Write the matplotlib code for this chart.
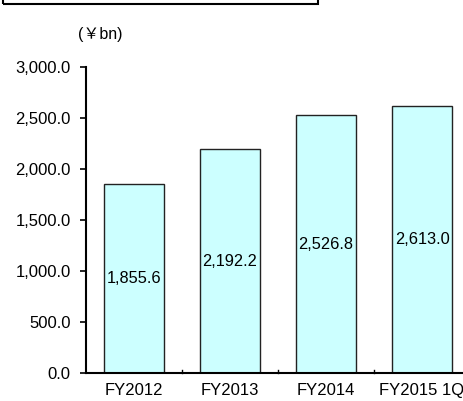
import matplotlib.pyplot as plt
from matplotlib.patches import Rectangle

# Datos del grafico
categorias = ['FY2012', 'FY2013', 'FY2014', 'FY2015 1Q']
valores = [1855.6, 2192.2, 2526.8, 2613.0]
etiquetas_y = ['0.0', '500.0', '1,000.0', '1,500.0', '2,000.0', '2,500.0', '3,000.0']
ticks_y = [0, 500, 1000, 1500, 2000, 2500, 3000]

plt.rcParams['font.family'] = ['Liberation Sans', 'Noto Sans CJK JP', 'DejaVu Sans']

fig = plt.figure(figsize=(4.63, 4.01), dpi=100)
W, H = 463, 401
ax = fig.add_axes([86 / W, (H - 373) / H, (470 - 86) / W, (373 - 67) / H])

x = range(len(categorias))
ax.bar(x, valores, width=0.63, color='#CCFFFF', edgecolor='#222222', linewidth=1.0)

# Etiquetas dentro de las barras (a media altura)
for i, v in enumerate(valores):
    ax.text(i, v / 2, f'{v:,.1f}', ha='center', va='center', fontsize=11.8)

ax.set_xlim(-0.5, len(categorias) - 0.5)
ax.set_ylim(0, 3000)
ax.set_yticks(ticks_y)
ax.set_yticklabels(etiquetas_y, fontsize=12)
ax.set_xticks(list(x))
ax.set_xticklabels(categorias, fontsize=12)
ax.tick_params(axis='x', length=0, pad=7)
ax.tick_params(axis='y', direction='out', length=4, width=1.2, pad=7)

# Marcas pequenas entre categorias en el eje x
for b in [0.5, 1.5, 2.5]:
    ax.plot([b, b], [0, 30], color='black', lw=1.0, clip_on=False)

for s in ['top', 'right']:
    ax.spines[s].set_visible(False)
for s in ['left', 'bottom']:
    ax.spines[s].set_linewidth(1.5)

fig.text(100 / W, 1 - 34 / H, '(￥bn)', ha='center', va='center', fontsize=11.5)

# Recuadro del titulo (recortado arriba)
fig.patches.append(Rectangle((3 / W, 1 - 4 / H), (318 - 3) / W, 0.05,
                             transform=fig.transFigure, fill=False,
                             edgecolor='black', linewidth=1.5))

fig.savefig('out.png', dpi=100)
